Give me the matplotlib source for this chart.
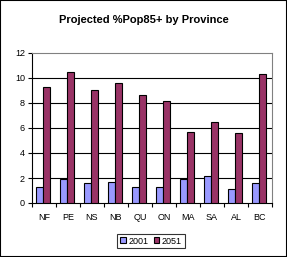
import matplotlib.pyplot as plt
import numpy as np

provinces = ["NF", "PE", "NS", "NB", "QU", "ON", "MA", "SA", "AL", "BC"]
pop_2001 = [1.3, 1.9, 1.6, 1.7, 1.3, 1.3, 1.9, 2.2, 1.1, 1.6]
pop_2051 = [9.3, 10.5, 9.0, 9.6, 8.6, 8.2, 5.7, 6.5, 5.6, 10.3]
y_ticks = [0, 2, 4, 6, 8, 10, 12]

plt.rcParams['font.family'] = ['Liberation Sans', 'DejaVu Sans']

fig = plt.figure(figsize=(2.87, 2.57), dpi=100)
ax = fig.add_axes([32 / 287, 1 - 203 / 257, 240 / 287, 150 / 257])

x = np.arange(len(provinces))
w = 0.29
ax.bar(x - w / 2 - 0.03, pop_2001, w, color="#9999FF", edgecolor="black", linewidth=0.8, label="2001", zorder=3)
ax.bar(x + w / 2 - 0.03, pop_2051, w, color="#993366", edgecolor="black", linewidth=0.8, label="2051", zorder=3)

ax.set_xlim(-0.5, len(provinces) - 0.5)
ax.set_ylim(0, 12)
ax.set_yticks(y_ticks)
ax.set_yticklabels([str(t) for t in y_ticks], fontsize=6.5)
ax.set_xticks(x)
ax.set_xticklabels(provinces, fontsize=6.5)
ax.set_xticks(np.arange(len(provinces) + 1) - 0.5, minor=True)
ax.tick_params(axis='x', which='major', length=0, pad=7)
ax.tick_params(axis='x', which='minor', length=3, direction='out', width=0.8)
ax.tick_params(axis='y', length=3, direction='out', width=0.8, pad=2)

for t in y_ticks[1:-1]:
    ax.axhline(t, color="black", linewidth=0.8, zorder=1)
ax.spines['top'].set_color("#808080")
ax.spines['right'].set_color("#808080")
ax.spines['left'].set_linewidth(0.8)
ax.spines['bottom'].set_linewidth(0.8)
ax.spines['top'].set_linewidth(0.8)
ax.spines['right'].set_linewidth(0.8)

fig.text(0.5, 1 - 20 / 257, "Projected %Pop85+ by Province", ha="center", va="center",
         fontsize=8, fontweight="bold")

leg = fig.legend(loc="center", bbox_to_anchor=(151 / 287, 1 - 241 / 257), ncol=2, fontsize=6.5,
                 frameon=True, fancybox=False, edgecolor="black", handlelength=0.6, handleheight=0.6,
                 handletextpad=0.3, columnspacing=0.6, borderpad=0.3)
leg.get_frame().set_linewidth(0.8)

fig.patches.append(plt.Rectangle((0, 0), 1, 1, transform=fig.transFigure, fill=False,
                                 edgecolor="black", linewidth=1.5))

fig.savefig("out.png", dpi=100)
